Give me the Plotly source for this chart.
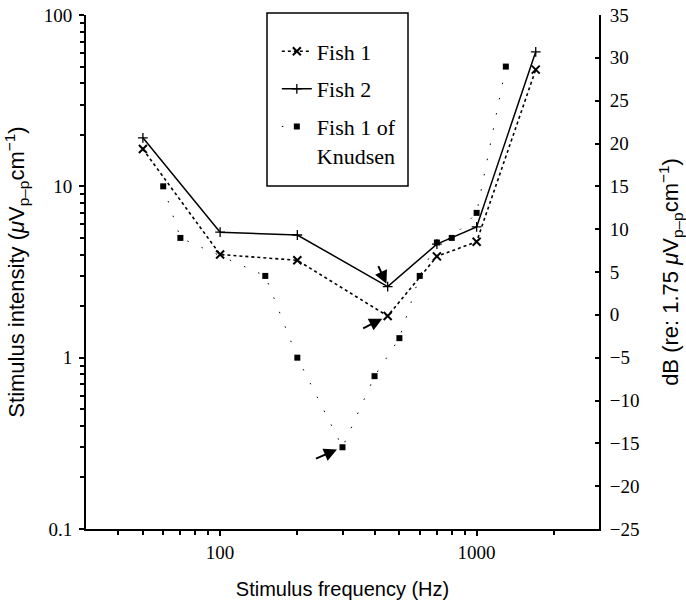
import numpy as np
import plotly.graph_objects as go

# ---- data ----
fish1_freq = [50, 100, 200, 450, 700, 1000, 1700]
fish1_val = [16.5, 4.0, 3.7, 1.75, 3.9, 4.75, 48]

fish2_freq = [50, 100, 200, 450, 700, 1000, 1700]
fish2_val = [19.2, 5.4, 5.2, 2.6, 4.6, 5.8, 61]

knud_freq = [60, 70, 150, 200, 300, 400, 500, 600, 700, 800, 1000, 1300]
knud_val = [10, 5, 3.0, 1.0, 0.3, 0.78, 1.3, 3.0, 4.7, 5.0, 7.0, 50]

x_tickvals = [100, 1000]
x_ticktext = ["100", "1000"]
x_minor = [40, 50, 60, 70, 80, 90, 200, 300, 400, 500, 600, 700, 800, 900, 2000]
y_tickvals = [0.1, 1, 10, 100]
y_ticktext = ["0.1", "1", "10", "100"]
y_minor = [m * d for d in (0.1, 1, 10) for m in range(2, 10)]
db_ticks = list(range(-25, 40, 5))

SERIF = "Liberation Serif"
SANS = "Liberation Sans"

fig = go.Figure()

fig.add_trace(go.Scatter(
    x=fish1_freq, y=fish1_val, name="Fish 1", mode="lines+markers",
    line=dict(color="black", width=1.6, dash="dot"),
    marker=dict(symbol="x-thin", size=8, line=dict(color="black", width=2)),
    legendgroup="a",
))
fig.add_trace(go.Scatter(
    x=fish2_freq, y=fish2_val, name="Fish 2", mode="lines+markers",
    line=dict(color="black", width=1.5),
    marker=dict(symbol="cross-thin", size=7, line=dict(color="black", width=1.3)),
    legendgroup="b",
))
fig.add_trace(go.Scatter(
    x=knud_freq, y=knud_val, name="Fish 1 of<br>Knudsen", mode="lines+markers",
    line=dict(color="black", width=1, dash="1.5px,14px"),
    marker=dict(symbol="square", size=6, color="black"),
    legendgroup="c",
))
# carrier for the right-hand dB axis
fig.add_trace(go.Scatter(x=[None], y=[None], yaxis="y2", showlegend=False,
                         hoverinfo="skip"))

# arrows
arrow_specs = [
    (fish2_freq[3], fish2_val[3], -10, -22, 3),
    (fish1_freq[3], fish1_val[3], -26, 13, 6),
    (knud_freq[4], knud_val[4], -28, 12, 6),
]
for fx, fy, ax, ay, so in arrow_specs:
    fig.add_annotation(x=np.log10(fx), y=np.log10(fy), xref="x", yref="y",
                       text="", showarrow=True, arrowhead=2, arrowsize=1.3,
                       arrowwidth=2, arrowcolor="black", ax=ax, ay=ay,
                       standoff=so)

tickfont = dict(family=SERIF, size=19, color="black")
xtitlefont = dict(family=SANS, size=20, color="black")
ytitlefont = dict(family=SANS, size=22, color="black")

fig.update_layout(
    width=686, height=602,
    margin=dict(l=86, r=87, t=15, b=73, autoexpand=False),
    paper_bgcolor="white", plot_bgcolor="white",
    font=dict(family=SERIF, color="black"),
    showlegend=True,
    legend=dict(x=0.372, y=0.970, xanchor="left", yanchor="top",
                bgcolor="rgba(0,0,0,0)", borderwidth=0,
                font=dict(family=SERIF, size=22, color="black"),
                tracegroupgap=6, itemwidth=30, valign="top",
                traceorder="grouped"),
    xaxis=dict(
        type="log", range=[np.log10(30), np.log10(3000)], automargin=False,
        tickvals=x_tickvals, ticktext=x_ticktext,
        ticks="outside", ticklen=5, tickwidth=1.5, tickcolor="black",
        minor=dict(tickvals=x_minor, ticks="outside", ticklen=4,
                   tickwidth=1.5, tickcolor="black", showgrid=False),
        showline=True, linewidth=2, linecolor="black",
        showgrid=False, zeroline=False, tickfont=tickfont,
        ticklabelstandoff=0,
        title=dict(text="Stimulus frequency (Hz)", font=xtitlefont, standoff=20),
    ),
    yaxis=dict(
        type="log", range=[-1, 2], automargin=False,
        tickvals=y_tickvals, ticktext=y_ticktext,
        ticks="outside", ticklen=5, tickwidth=1.5, tickcolor="black",
        minor=dict(tickvals=y_minor, ticks="outside", ticklen=4,
                   tickwidth=1.5, tickcolor="black", showgrid=False),
        showline=True, linewidth=2, linecolor="black",
        showgrid=False, zeroline=False, tickfont=tickfont,
        ticklabelstandoff=3,
        title=dict(text="Stimulus intensity (<i>μ</i>V<sub>p–p</sub>cm<sup>−1</sup>)",
                   font=ytitlefont, standoff=13),
    ),
    yaxis2=dict(
        overlaying="y", side="right", range=[-25, 35], automargin=False,
        tickvals=db_ticks, ticks="inside", ticklen=4, tickwidth=1.5,
        tickcolor="black", showline=True, linewidth=2, linecolor="black",
        showgrid=False, zeroline=False, tickfont=tickfont,
        ticklabelstandoff=5,
        title=dict(text="dB (re: 1.75 <i>μ</i>V<sub>p–p</sub>cm<sup>−1</sup>)",
                   font=ytitlefont, standoff=25),
    ),
    shapes=[dict(type="rect", xref="paper", yref="paper",
                 x0=(267 - 86) / 513, x1=(408 - 86) / 513,
                 y0=(529 - 186) / 514, y1=(529 - 13) / 514,
                 line=dict(color="black", width=1.5), fillcolor="rgba(0,0,0,0)")],
)

fig.write_html("out.html", config={"displayModeBar": False},
               post_script="document.body.style.margin='0';")
